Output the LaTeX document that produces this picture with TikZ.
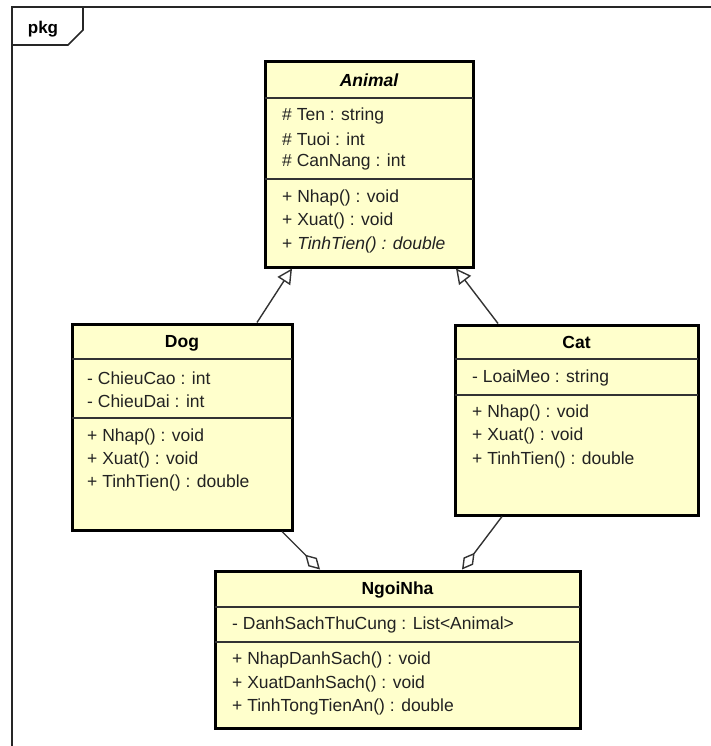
\documentclass[tikz,border=0pt]{standalone}
\usepackage{fontspec}
\setmainfont{Liberation Sans}
\usetikzlibrary{arrows.meta}
\definecolor{clsfill}{RGB}{255,255,204}
\definecolor{ink}{RGB}{34,34,34}
\definecolor{wire}{RGB}{51,51,51}
\tikzset{
  clsbox/.style={draw=black, line width=3pt, fill=clsfill, rectangle, inner sep=0pt},
  divider/.style={draw=wire, line width=1.4pt},
  member/.style={anchor=west, inner sep=0pt, text=ink, font=\fontsize{17.5}{20}\selectfont},
  title/.style={anchor=center, inner sep=0pt, text=black, font=\fontsize{17.5}{20}\selectfont\bfseries},
  gen/.style={draw=wire, line width=1.4pt, -{Triangle[open, length=15pt, width=15pt, fill=white]}},
  agg/.style={draw=wire, line width=1.4pt, -{Diamond[open, length=21pt, width=12pt, fill=white]}},
  frameline/.style={draw=black!85, line width=1.6pt}
}
\begin{document}
\begin{tikzpicture}[x=1pt, y=-1pt]
\useasboundingbox (0,0) rectangle (711,746);
% package frame
\draw[frameline] (12,746) -- (12,7) -- (711,7);
\draw[frameline] (12,45) -- (68,45) -- (83,30) -- (83,7);
\node[title, font=\fontsize{17}{20}\selectfont\bfseries] (pkg) at (43,29) {pkg};

% Animal
\node[clsbox, minimum width=208pt, minimum height=205pt] (animal) at (369,164.5) {};
\draw[divider] (265,98) -- (473,98);
\draw[divider] (265,179) -- (473,179);
\node[title, font=\fontsize{17.5}{20}\selectfont\bfseries\itshape] (animalT) at (369,80) {Animal};
\node[member] (a1) at (282,116) {\# Ten : string};
\node[member] (a2) at (282,139) {\# Tuoi : int};
\node[member] (a3) at (282,162) {\# CanNang : int};
\node[member] (a4) at (282,198) {+ Nhap() : void};
\node[member] (a5) at (282,221) {+ Xuat() : void};
\node[member] (a6) at (282,245) {+ \textit{TinhTien() : double}};

% Dog
\node[clsbox, minimum width=220pt, minimum height=206pt] (dog) at (182,427) {};
\draw[divider] (72,359) -- (292,359);
\draw[divider] (72,418) -- (292,418);
\node[title] (dogT) at (182,343) {Dog};
\node[member] (d1) at (87,378) {- ChieuCao : int};
\node[member] (d2) at (87,401) {- ChieuDai : int};
\node[member] (d3) at (87,437) {+ Nhap() : void};
\node[member] (d4) at (87,460) {+ Xuat() : void};
\node[member] (d5) at (87,483) {+ TinhTien() : double};

% Cat
\node[clsbox, minimum width=243pt, minimum height=190pt] (cat) at (576.5,420) {};
\draw[divider] (455,359) -- (698,359);
\draw[divider] (455,395) -- (698,395);
\node[title] (catT) at (576.5,342) {Cat};
\node[member] (c1) at (472,378) {- LoaiMeo : string};
\node[member] (c2) at (472,413) {+ Nhap() : void};
\node[member] (c3) at (472,436) {+ Xuat() : void};
\node[member] (c4) at (472,460) {+ TinhTien() : double};

% NgoiNha
\node[clsbox, minimum width=365pt, minimum height=157pt] (nha) at (397.5,649.5) {};
\draw[divider] (215,607) -- (580,607);
\draw[divider] (215,642) -- (580,642);
\node[title] (nhaT) at (397.5,590) {NgoiNha};
\node[member] (n1) at (232,625) {- DanhSachThuCung : List<Animal>};
\node[member] (n2) at (232,660) {+ NhapDanhSach() : void};
\node[member] (n3) at (232,684) {+ XuatDanhSach() : void};
\node[member] (n4) at (232,707) {+ TinhTongTienAn() : double};

% connector end points on the box borders
\coordinate (g1s) at (257,322.5);
\coordinate (g1t) at (292,268.5);
\coordinate (g2s) at (498,323.5);
\coordinate (g2t) at (456,268.5);
\coordinate (h1s) at (282,531.5);
\coordinate (h1t) at (320,569.5);
\coordinate (h2s) at (502,516.5);
\coordinate (h2t) at (462,569.5);

\draw[gen] (g1s) -- (g1t);
\draw[gen] (g2s) -- (g2t);
\draw[agg] (h1s) -- (h1t);
\draw[agg] (h2s) -- (h2t);
\end{tikzpicture}
\end{document}
